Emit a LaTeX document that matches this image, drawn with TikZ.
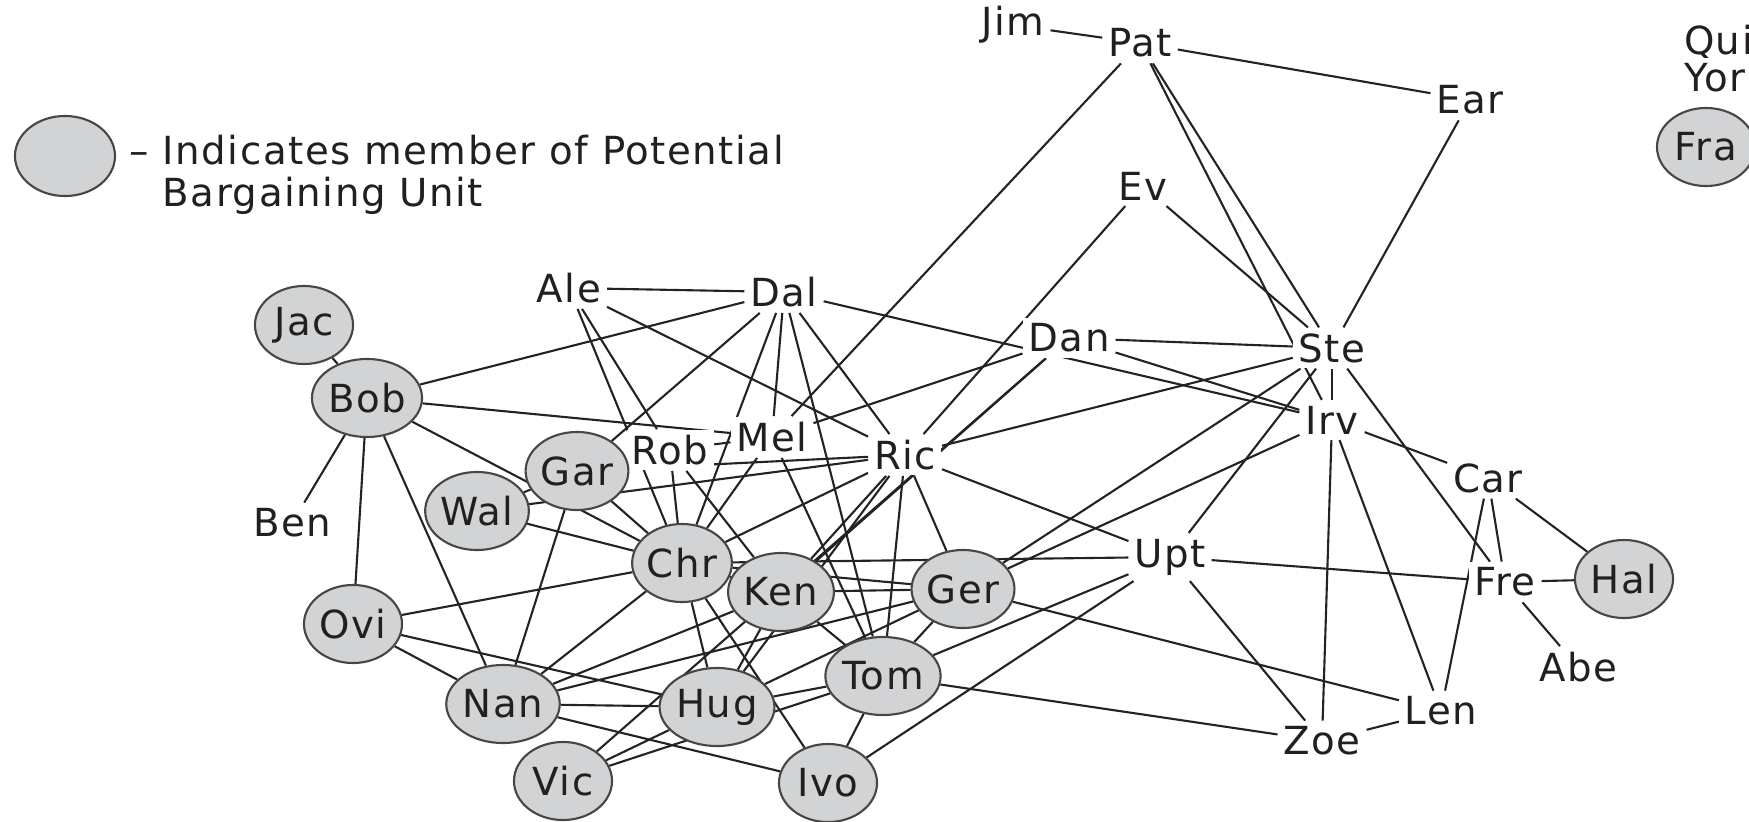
\documentclass[tikz,border=0pt]{standalone}
\usepackage{fontspec}
\setmainfont{DejaVu Sans}[LetterSpace=4]
\usepackage{tikz}
\usetikzlibrary{shapes.geometric,backgrounds}
\definecolor{UnitGray}{RGB}{209,211,212}
\definecolor{RimGray}{RGB}{70,70,70}
\definecolor{TieGray}{RGB}{35,35,35}
\definecolor{InkGray}{RGB}{35,31,32}

\begin{document}
\begin{tikzpicture}[x=0.01cm, y=-0.01cm, font=\fontsize{11}{12}\selectfont, text=InkGray]
		\tikzstyle{Member} = [ellipse, draw=RimGray, fill=UnitGray, line width=0.6pt, minimum width=0.98cm, minimum height=0.78cm, inner sep=0pt]
		\tikzstyle{Name}   = [fill=white, inner sep=1.5pt]
		\tikzstyle{Tie}    = [TieGray, line width=0.6pt]

		\useasboundingbox (0,0) rectangle (1749,821);

		% legend
		\node (key) at (65,156) [Member, minimum width=1.0cm, minimum height=0.8cm] {};
		\node (keytext) at (129,175) [anchor=west, align=left, inner sep=0pt] {– Indicates member of Potential\\\phantom{– }Bargaining Unit};

		% people outside the unit
		\node (jim) at (1013, 25) [Name] {Jim};
		\node (pat) at (1140, 43) [Name] {Pat};
		\node (ear) at (1470,100) [Name] {Ear};
		\node (qui) at (1678, 42) [Name, anchor=west] {Qui};
		\node (yor) at (1678, 78) [Name, anchor=west] {Yor};
		\node (ev)  at (1143,186) [Name] {Ev};
		\node (ale) at (569, 288) [Name] {Ale};
		\node (dal) at (784, 292) [Name] {Dal};
		\node (dan) at (1069,338) [Name] {Dan};
		\node (ste) at (1332,348) [Name] {Ste};
		\node (irv) at (1332,420) [Name] {Irv};
		\node (mel) at (772, 437) [Name] {Mel};
		\node (rob) at (670, 450) [Name] {Rob};
		\node (ric) at (905, 455) [Name] {Ric};
		\node (ben) at (292, 523) [Name] {Ben};
		\node (car) at (1488,478) [Name] {Car};
		\node (upt) at (1170,557) [Name] {Upt};
		\node (fre) at (1505,582) [Name] {Fre};
		\node (abe) at (1578,667) [Name] {Abe};
		\node (len) at (1441,711) [Name] {Len};
		\node (zoe) at (1322,741) [Name] {Zoe};

		% members of the unit
		\node (fra) at (1706,147) [Member] {Fra};
		\node (jac) at (304, 325) [Member] {Jac};
		\node (bob) at (367, 398) [Member] {Bob};
		\node (gar) at (577, 471) [Member] {Gar};
		\node (wal) at (477, 511) [Member] {Wal};
		\node (chr) at (682, 563) [Member] {Chr};
		\node (ken) at (781, 592) [Member] {Ken};
		\node (ger) at (963, 589) [Member] {Ger};
		\node (hal) at (1624,579) [Member] {Hal};
		\node (ovi) at (353, 624) [Member] {Ovi};
		\node (tom) at (883, 676) [Member] {Tom};
		\node (nan) at (503, 704) [Member] {Nan};
		\node (hug) at (717, 707) [Member] {Hug};
		\node (vic) at (563, 781) [Member] {Vic};
		\node (ivo) at (828, 783) [Member] {Ivo};

		\begin{pgfonlayer}{background}
		% upper right
		\draw [-] (jim) to (pat) [Tie];
		\draw [-] (pat) to (ear) [Tie];
		\draw [-] (pat) to (mel) [Tie];
		\draw [-] (pat) to (ste) [Tie];
		\draw [-] (pat) to (irv) [Tie];
		\draw [-] (ear) to (ste) [Tie];
		\draw [-] (ev) to (ste) [Tie];
		\draw [-] (ev) to (ric) [Tie];
		\draw [-] (dan) to (ste) [Tie];
		\draw [-] (dan) to (irv) [Tie];
		\draw [-] (dal) to (irv) [Tie];
		\draw [-] (ste) to (irv) [Tie];
		\draw [-] (ste) to (fre) [Tie];
		\draw [-] (ste) to (ric) [Tie];
		\draw [-] (ste) to (ger) [Tie];
		\draw [-] (ste) to (upt) [Tie];
		\draw [-] (irv) to (ger) [Tie];
		\draw [-] (irv) to (car) [Tie];
		\draw [-] (irv) to (zoe) [Tie];
		\draw [-] (irv) to (len) [Tie];
		\draw [-] (car) to (fre) [Tie];
		\draw [-] (car) to (len) [Tie];
		\draw [-] (car) to (hal) [Tie];
		\draw [-] (fre) to (hal) [Tie];
		\draw [-] (fre) to (abe) [Tie];
		\draw [-] (upt) to (fre) [Tie];
		\draw [-] (upt) to (zoe) [Tie];
		\draw [-] (zoe) to (len) [Tie];
		\draw [-] (tom) to (zoe) [Tie];
		\draw [-] (ger) to (len) [Tie];
		\draw [-] (ric) to (upt) [Tie];
		\draw [-] (chr) to (upt) [Tie];
		\draw [-] (upt) to (tom) [Tie];
		\draw [-] (upt) to (ivo) [Tie];
		% left
		\draw [-] (jac) to (bob) [Tie];
		\draw [-] (bob) to (ben) [Tie];
		\draw [-] (bob) to (ovi) [Tie];
		\draw [-] (bob) to (nan) [Tie];
		\draw [-] (bob) to (dal) [Tie];
		\draw [-] (bob) to (mel) [Tie];
		\draw [-] (bob) to (chr) [Tie];
		\draw [-] (ovi) to (chr) [Tie];
		\draw [-] (ovi) to (nan) [Tie];
		\draw [-] (ovi) to (hug) [Tie];
		% centre
		\draw [-] (ale) to (dal) [Tie];
		\draw [-] (ale) to (ric) [Tie];
		\draw [-] (ale) to (chr) [Tie];
		\draw [-] (ale) to (rob) [Tie];
		\draw [-] (rob) to (ken) [Tie];
		\draw [-] (dal) to (gar) [Tie];
		\draw [-] (dal) to (chr) [Tie];
		\draw [-] (dal) to (mel) [Tie];
		\draw [-] (dal) to (tom) [Tie];
		\draw [-] (dal) to (ric) [Tie];
		\draw [-] (rob) to (mel) [Tie];
		\draw [-] (rob) to (chr) [Tie];
		\draw [-] (mel) to (dan) [Tie];
		\draw [-] (mel) to (tom) [Tie];
		\draw [-] (mel) to (chr) [Tie];
		\draw [-] (ric) to (gar) [Tie];
		\draw [-] (ric) to (wal) [Tie];
		\draw [-] (ric) to (chr) [Tie];
		\draw [-] (ric) to (ken) [Tie];
		\draw [-] (ric) to (hug) [Tie];
		\draw [-] (ric) to (tom) [Tie];
		\draw [-] (ric) to (ger) [Tie];
		\draw [-] (dan) to (ken) [Tie];
		\draw [-] (dan) to (vic) [Tie];
		\draw [-] (gar) to (wal) [Tie];
		\draw [-] (gar) to (chr) [Tie];
		\draw [-] (gar) to (nan) [Tie];
		\draw [-] (wal) to (chr) [Tie];
		\draw [-] (chr) to (ken) [Tie];
		\draw [-] (chr) to (hug) [Tie];
		\draw [-] (chr) to (nan) [Tie];
		\draw [-] (chr) to (ivo) [Tie];
		\draw [-] (chr) to (ger) [Tie];
		\draw [-] (ken) to (ger) [Tie];
		\draw [-] (ken) to (tom) [Tie];
		\draw [-] (ken) to (hug) [Tie];
		\draw [-] (ken) to (nan) [Tie];
		\draw [-] (ger) to (tom) [Tie];
		\draw [-] (ger) to (hug) [Tie];
		\draw [-] (ger) to (nan) [Tie];
		\draw [-] (hug) to (tom) [Tie];
		\draw [-] (hug) to (nan) [Tie];
		\draw [-] (vic) to (hug) [Tie];
		\draw [-] (vic) to (tom) [Tie];
		\draw [-] (nan) to (ivo) [Tie];
		\draw [-] (tom) to (ivo) [Tie];
		\end{pgfonlayer}
	\end{tikzpicture}
\end{document}
